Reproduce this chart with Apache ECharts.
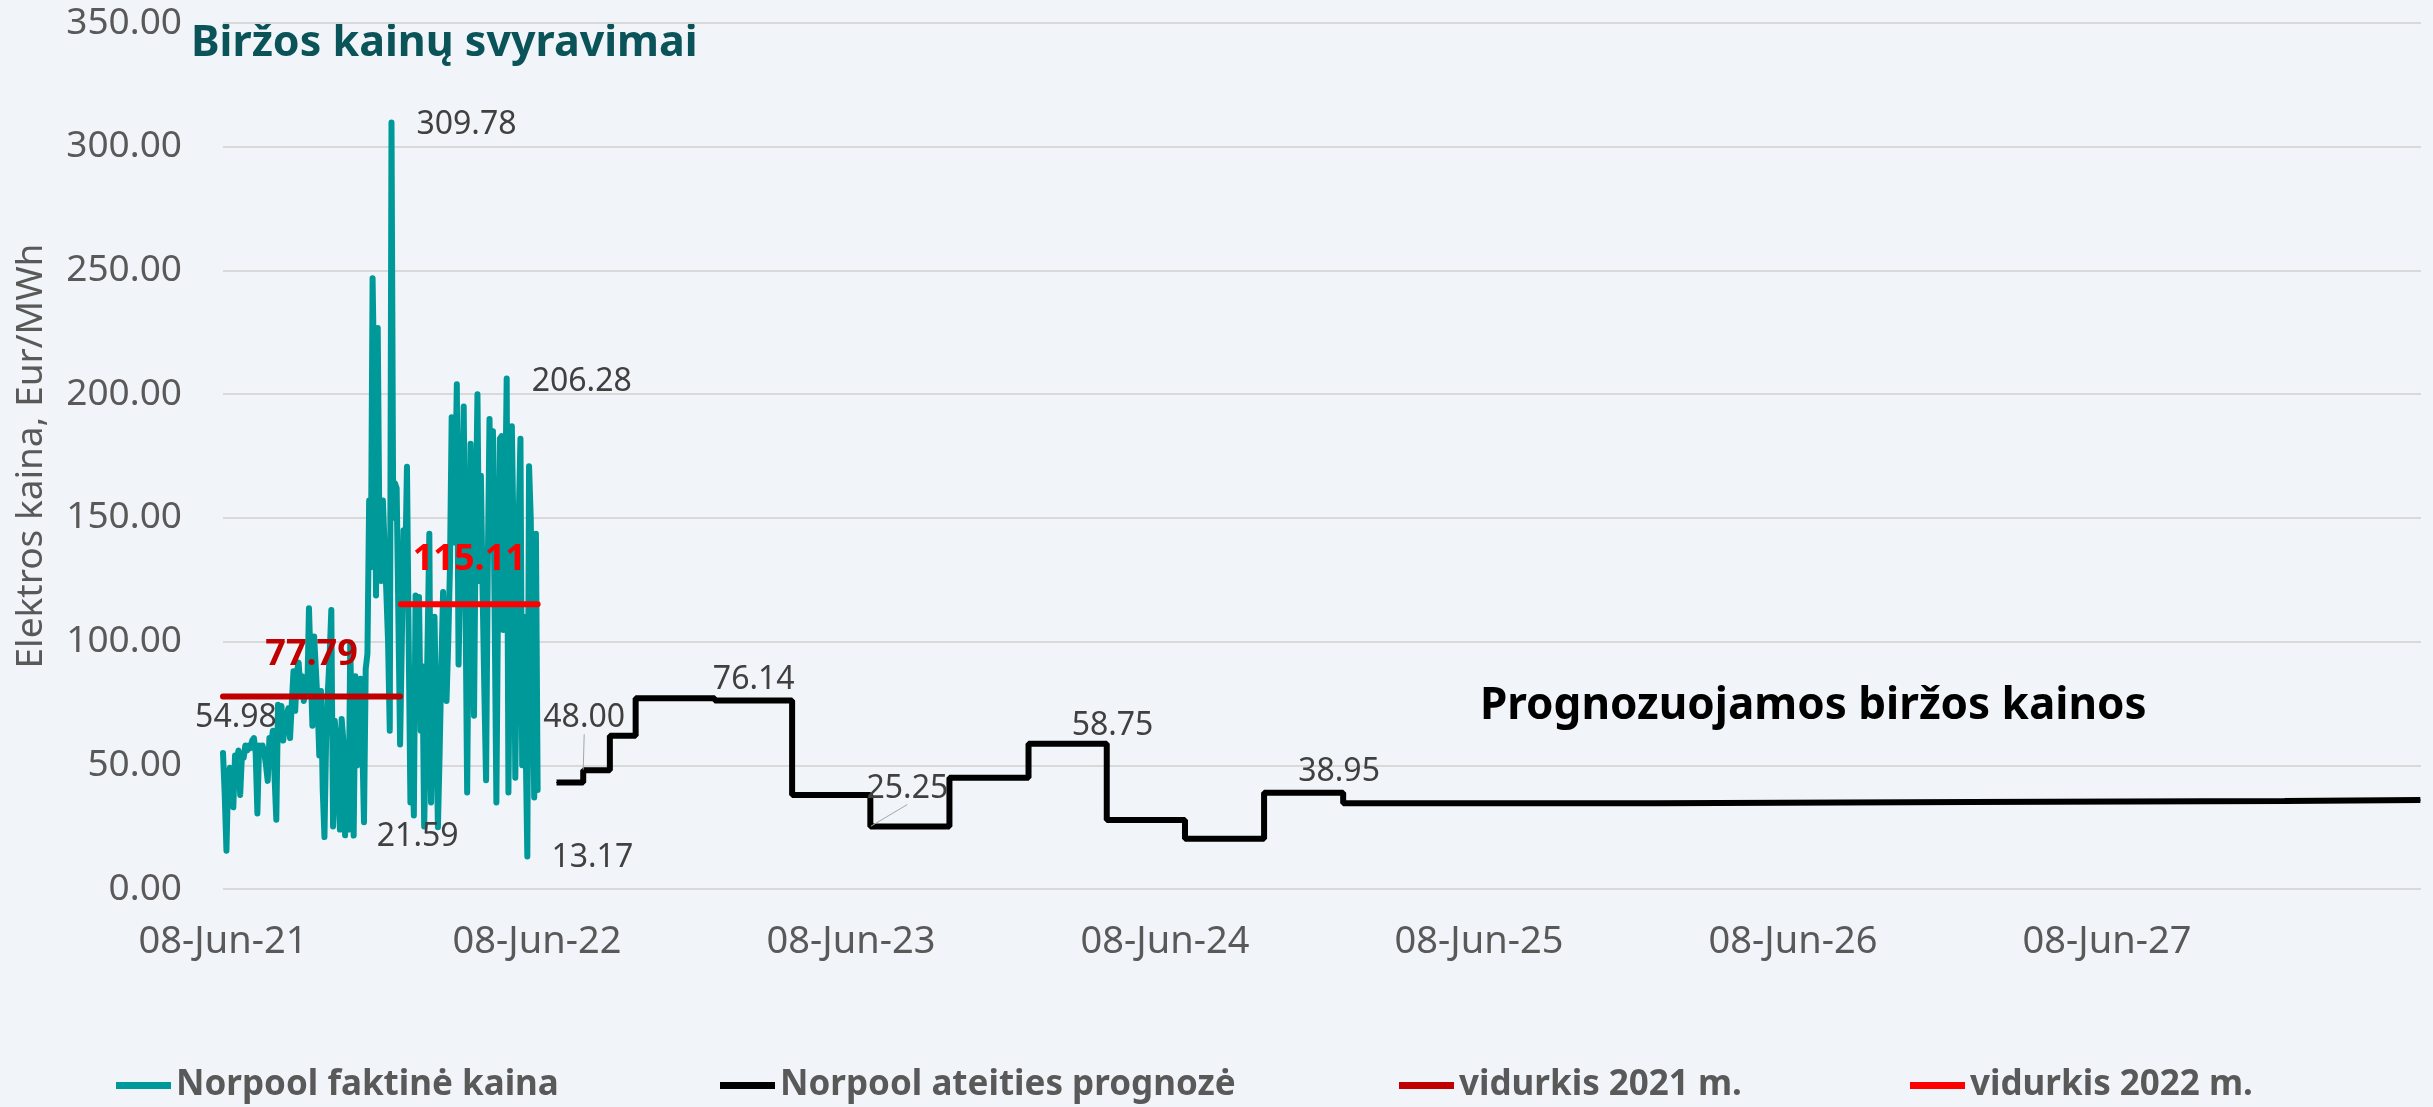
<!DOCTYPE html>
<html>
<head>
<meta charset="utf-8">
<title>Biržos kainų svyravimai</title>
<script src="https://cdn.jsdelivr.net/npm/echarts@6/dist/echarts.min.js"></script>
<style>
  html, body { margin: 0; padding: 0; background: #F1F4F8; }
  #chart { width: 2433px; height: 1107px; }
</style>
</head>
<body>
<div id="chart"></div>
<script>
// Nord Pool spot price (Eur/MWh), one reading every second day from 08-Jun-21
const spotStart = '2021-06-08';
const spotStepDays = 2;
const spotPrices = [
  54.98, 38, 15.5, 46, 49, 42, 33, 54, 52, 56,
  38, 54, 53, 58, 56, 58, 57, 60, 61, 55,
  30.5, 58, 55, 58, 55, 50, 43.7, 61, 58, 64,
  45, 28, 74.5, 65, 74, 60, 66, 70, 73, 61,
  75, 88, 72, 88, 91.5, 80, 86, 76, 82, 78,
  113.5, 90, 66, 102, 89, 75, 54, 80, 40, 21,
  61, 80, 94, 112.8, 25.3, 68, 60, 40, 24, 68.7,
  60, 21.7, 50, 24, 99.6, 60, 21.59, 86, 50, 70,
  85, 60, 27, 89, 95, 157, 130, 246.8, 200, 118.6,
  226.7, 140, 124.5, 157, 138, 120, 100, 64, 309.78, 150,
  164, 162, 110, 58.4, 100, 145, 130, 170.7, 100, 35,
  60, 29.7, 118.6, 90, 118, 64, 90, 25.3, 60, 100,
  143.6, 35, 80, 110, 70, 25, 55, 90, 120, 100,
  76, 100, 130, 190.7, 140, 160, 204, 90.7, 130, 160,
  195, 120, 39, 120, 180, 120, 70, 150, 200, 124.5,
  167, 120, 80, 44, 130, 190, 140, 185, 110, 35,
  120, 182, 183, 104.7, 150, 206.28, 39, 110, 187, 140,
  45, 100, 150, 182, 50, 110, 60, 13.17, 170.9, 149.5,
  90, 37, 143.6, 40
];

// Nord Pool forward prices: delivery period starts and prices (Eur/MWh)
const forwardStarts = [
  '2022-07-01', '2022-08-01', '2022-09-01', '2022-10-01',
  '2023-01-01', '2023-04-01', '2023-07-01', '2023-10-01',
  '2024-01-01', '2024-04-01', '2024-07-01', '2024-10-01',
  '2025-01-01', '2026-01-01', '2027-01-01', '2028-01-01'
];
const forwardEnd = '2028-06-07';
const forwardPrices = [
  43.0, 48.00, 61.9, 77.1,
  76.14, 38.0, 25.25, 45.0,
  58.75, 27.9, 20.3, 38.95,
  34.7, 35.2, 35.6, 36.0
];

// Yearly average of the spot price
const avgNames = ['vidurkis 2021 m.', 'vidurkis 2022 m.'];
const avgFrom = ['2021-06-08', '2022-01-01'];
const avgTo = ['2021-12-31', '2022-06-09'];
const avgValues = [77.79, 115.11];

const seriesNames = ['Norpool faktinė kaina', 'Norpool ateities prognozė', avgNames[0], avgNames[1]];
const xTickLabels = ['08-Jun-21', '08-Jun-22', '08-Jun-23', '08-Jun-24', '08-Jun-25', '08-Jun-26', '08-Jun-27'];

// ---- helpers ----
const DAY_MS = 86400000;
const YEAR = 365.25;
const t0 = Date.parse(spotStart);
const dayOf = s => (Date.parse(s) - t0) / DAY_MS;

const FONT = '"Noto Sans", "Open Sans", sans-serif';
const GREY = '#595959';
const TEAL = '#009999';
const avgColors = ['#C00000', '#FF0000'];

function valueLabel(offset, extra) {
  return Object.assign({
    show: true,
    position: 'inside',
    offset: offset,
    formatter: p => p.value[1].toFixed(2),
    fontFamily: FONT,
    fontSize: 32,
    color: '#404040'
  }, extra || {});
}

// spot series with a few values written next to their points
const spotLabelOffsets = { 0: [13, -35], 76: [64, 1], 98: [75, 2], 165: [75, 3], 177: [65, 1] };
const spotData = spotPrices.map((v, i) => {
  const item = { value: [i * spotStepDays, v] };
  if (spotLabelOffsets[i]) item.label = valueLabel(spotLabelOffsets[i]);
  return item;
});

// forward series as a step line; last period closes at the axis end
const forwardLabelOffsets = { 1: [1, -52], 4: [39, -21], 6: [37, -38], 8: [84, -18], 11: [75, -21] };
const forwardGuided = { 1: true, 6: true };
const forwardData = forwardPrices.map((v, i) => {
  const item = { value: [dayOf(forwardStarts[i]), v] };
  if (forwardLabelOffsets[i]) {
    item.label = valueLabel(forwardLabelOffsets[i]);
    if (forwardGuided[i]) {
      item.labelLine = { show: true, lineStyle: { color: '#A6A6A6', width: 1 } };
    }
  }
  return item;
});
forwardData.push({ value: [dayOf(forwardEnd), forwardPrices[forwardPrices.length - 1]] });

// average lines, value written above their middle
const avgLabelOffsets = [[0, -42], [0, -44]];
const avgSeries = avgValues.map((v, k) => {
  const a = dayOf(avgFrom[k]);
  const b = dayOf(avgTo[k]);
  return {
    name: avgNames[k],
    type: 'line',
    symbol: 'circle',
    symbolSize: 1,
    itemStyle: { color: avgColors[k] },
    lineStyle: { color: avgColors[k], width: 6, cap: 'round' },
    data: [
      { value: [a, v] },
      { value: [(a + b) / 2, v], label: valueLabel(avgLabelOffsets[k], { fontSize: 36, fontWeight: 'bold', color: avgColors[k] }) },
      { value: [b, v] }
    ]
  };
});

const legendLeft = [116, 720, 1399, 1910];

const chart = echarts.init(document.getElementById('chart'), null, { renderer: 'canvas' });
chart.setOption({
  animation: false,
  backgroundColor: '#F1F4F8',
  textStyle: { fontFamily: FONT },
  grid: { left: 223, right: 12, top: 23, bottom: 218, containLabel: false, outerBoundsMode: 'none' },
  xAxis: {
    type: 'value',
    min: 0,
    max: 7 * YEAR,
    interval: YEAR,
    axisLine: { show: false },
    axisTick: { show: false },
    splitLine: { show: false },
    axisLabel: {
      margin: 34,
      fontFamily: FONT,
      fontSize: 38,
      color: GREY,
      formatter: v => xTickLabels[Math.round(v / YEAR)] || ''
    }
  },
  yAxis: {
    type: 'value',
    min: 0,
    max: 350,
    interval: 50,
    name: 'Elektros kaina, Eur/MWh',
    nameLocation: 'middle',
    nameGap: 173,
    nameTextStyle: { fontFamily: FONT, fontSize: 37, color: GREY },
    axisLine: { show: false },
    axisTick: { show: false },
    splitLine: { lineStyle: { color: '#D9D9D9', width: 2 } },
    axisLabel: {
      margin: 41,
      fontFamily: FONT,
      fontSize: 37,
      color: GREY,
      formatter: v => v.toFixed(2)
    }
  },
  legend: seriesNames.map((n, i) => ({
    data: [n],
    left: legendLeft[i],
    top: 1068,
    padding: 0,
    icon: 'rect',
    itemWidth: 55,
    itemHeight: 7,
    selectedMode: false,
    textStyle: { fontFamily: FONT, fontSize: 35, fontWeight: 'bold', color: GREY }
  })),
  graphic: [
    {
      type: 'text', x: 191, y: 44, silent: true,
      style: {
        text: 'Biržos kainų svyravimai',
        fontFamily: FONT, fontSize: 43, fontWeight: 'bold',
        fill: '#0A5459', align: 'left', verticalAlign: 'middle'
      }
    },
    {
      type: 'text', x: 1480, y: 706, silent: true,
      style: {
        text: 'Prognozuojamos biržos kainos',
        fontFamily: FONT, fontSize: 44, fontWeight: 'bold',
        fill: '#000000', align: 'left', verticalAlign: 'middle'
      }
    }
  ],
  series: [
    {
      name: seriesNames[0],
      type: 'line',
      symbol: 'circle',
      symbolSize: 1,
      showAllSymbol: true,
      itemStyle: { color: TEAL },
      lineStyle: { color: TEAL, width: 6, cap: 'round', join: 'round' },
      data: spotData
    },
    {
      name: seriesNames[1],
      type: 'line',
      step: 'end',
      symbol: 'circle',
      symbolSize: 1,
      itemStyle: { color: '#000000' },
      lineStyle: { color: '#000000', width: 6 },
      data: forwardData
    }
  ].concat(avgSeries)
});
</script>
</body>
</html>
